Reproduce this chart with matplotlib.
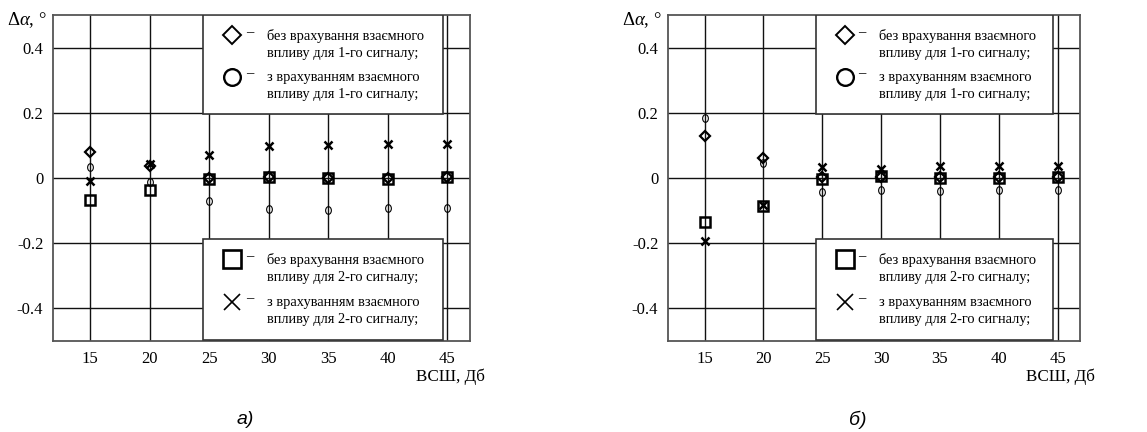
import matplotlib
matplotlib.use('Agg')
import matplotlib.pyplot as plt
from matplotlib.markers import MarkerStyle
from matplotlib.patches import Rectangle
from matplotlib.transforms import Affine2D

plt.rcParams['font.family'] = ['Liberation Serif', 'DejaVu Serif']
plt.rcParams['mathtext.fontset'] = 'custom'
plt.rcParams['mathtext.rm'] = 'Liberation Serif'
plt.rcParams['mathtext.it'] = 'Liberation Serif:italic'

snr = [15, 20, 25, 30, 35, 40, 45]
y_ticks = [-0.4, -0.2, 0, 0.2, 0.4]
y_tick_labels = ['-0.4', '-0.2', '0', '0.2', '0.4']

# panel a)
a_diamond = [0.080, 0.037, 0.000, 0.002, 0.000, 0.000, 0.002]
a_circle = [0.035, -0.012, -0.069, -0.096, -0.097, -0.093, -0.093]
a_square = [-0.067, -0.037, -0.002, 0.004, 0.000, -0.002, 0.004]
a_cross = [-0.009, 0.044, 0.072, 0.097, 0.101, 0.105, 0.105]

# panel б)
b_diamond = [0.129, 0.061, 0.003, 0.004, 0.003, 0.002, 0.004]
b_circle = [0.184, 0.047, -0.042, -0.038, -0.040, -0.036, -0.036]
b_square = [-0.135, -0.086, -0.004, 0.006, -0.001, -0.001, 0.003]
b_cross = [-0.192, -0.083, 0.034, 0.029, 0.036, 0.037, 0.038]

legend_top = ['без врахування взаємного\nвпливу для 1-го сигналу;',
              'з врахуванням взаємного\nвпливу для 1-го сигналу;']
legend_bottom = ['без врахування взаємного\nвпливу для 2-го сигналу;',
                 'з врахуванням взаємного\nвпливу для 2-го сигналу;']
captions = ['а)', 'б)']

ellipse = MarkerStyle('o', transform=Affine2D().scale(0.75, 1.0))


def draw_panel(ax, diamond, circle, square, cross):
    ax.set_xlim(11.9, 46.9)
    ax.set_ylim(-0.5, 0.5)
    ax.set_xticks(snr)
    ax.set_xticklabels([str(v) for v in snr], fontsize=12)
    ax.set_yticks(y_ticks)
    ax.set_yticklabels(y_tick_labels, fontsize=12)
    ax.tick_params(length=0, pad=7)
    ax.grid(True, color='#111111', lw=1.0)
    ax.set_axisbelow(True)
    for s in ax.spines.values():
        s.set_color('#555555')
        s.set_linewidth(1.3)

    ax.plot(snr, circle, ls='none', marker=ellipse, ms=5.5, mfc='none',
            mec='black', mew=0.8, zorder=3)
    ax.plot(snr, square, ls='none', marker='s', ms=6.5, mfc='none',
            mec='black', mew=1.8, zorder=3)
    ax.plot(snr, diamond, ls='none', marker='D', ms=5.6, mfc='none',
            mec='black', mew=1.6, zorder=4)
    ax.plot(snr, cross, ls='none', marker='x', ms=6, mec='black',
            mew=1.8, zorder=4)

    # legend boxes
    sizes = {'D': 9.5, 'o': 12, 's': 12.5, 'x': 11}
    mews = {'D': 1.4, 'o': 1.7, 's': 1.9, 'x': 1.2}
    boxes = [(0.695, 0.305, 'D', 'o', legend_top),
             (0.003, 0.310, 's', 'x', legend_bottom)]
    for y0, h, m1, m2, labels in boxes:
        ax.add_patch(Rectangle((0.36, y0), 0.575, h, transform=ax.transAxes,
                               facecolor='white', edgecolor='#333333',
                               lw=1.2, zorder=5))
        for k, (m, lab) in enumerate(zip([m1, m2], labels)):
            yy = y0 + h * (0.80 - 0.42 * k)
            ax.plot([0.43], [yy], transform=ax.transAxes, marker=m,
                    ms=sizes[m], mfc='none', mec='black', mew=mews[m],
                    ls='none', zorder=6, clip_on=False)
            ax.text(0.462, yy + 0.008, '–', transform=ax.transAxes,
                    fontsize=10.5, ha='left', va='center', zorder=6)
            ax.text(0.512, yy - 0.029, lab, transform=ax.transAxes,
                    fontsize=10.4, ha='left', va='center', linespacing=1.45,
                    zorder=6)

    ax.text(-0.014, 0.985, r'$\Delta\alpha$, °', transform=ax.transAxes,
            fontsize=13.5, ha='right', va='center')
    ax.text(1.035, -0.11, 'ВСШ, Дб', transform=ax.transAxes,
            fontsize=12.3, ha='right', va='center')


fig = plt.figure(figsize=(11.47, 4.32), dpi=100)
ax1 = fig.add_axes([0.0462, 0.2106, 0.3636, 0.7546])
ax2 = fig.add_axes([0.5824, 0.2106, 0.3592, 0.7546])

draw_panel(ax1, a_diamond, a_circle, a_square, a_cross)
draw_panel(ax2, b_diamond, b_circle, b_square, b_cross)

for xc, cap in zip([0.214, 0.748], captions):
    fig.text(xc, 0.028, cap, fontsize=14, style='italic',
             family=['Liberation Sans', 'DejaVu Sans'], ha='center', va='center')

fig.savefig('out.png', dpi=100)
